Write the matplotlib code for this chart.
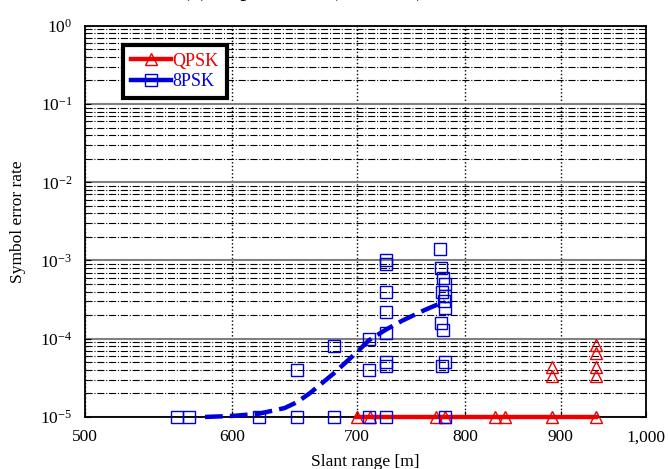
import numpy as np
import matplotlib
matplotlib.use('Agg')
import matplotlib.pyplot as plt
from matplotlib.ticker import FixedLocator, FuncFormatter, LogLocator, NullLocator

plt.rcParams['font.family'] = ['Liberation Serif', 'DejaVu Serif']
plt.rcParams['mathtext.fontset'] = 'stix'

# QPSK measured points (open triangles)
qpsk_x = [700, 711, 772, 780, 830, 840, 890, 940, 890, 890, 940, 940, 940, 940]
qpsk_y = [1e-5, 1e-5, 1e-5, 1e-5, 1e-5, 1e-5, 1e-5, 1e-5, 4.3e-5, 3.3e-5, 8.2e-5, 6.6e-5, 4.3e-5, 3.3e-5]
# QPSK fit line
qpsk_fit_x = [700, 940]
qpsk_fit_y = [1e-5, 1e-5]

# 8PSK measured points (open squares)
psk8_x = [560, 569, 620, 650, 680, 710, 725, 780,
          650, 680, 710, 710,
          725, 725, 725, 725, 725, 725, 725,
          775, 776, 778, 780, 777, 779, 780, 776, 778, 780, 777, 780]
psk8_y = [1e-5, 1e-5, 1e-5, 1e-5, 1e-5, 1e-5, 1e-5, 1e-5,
          4e-5, 8e-5, 1e-4, 4e-5,
          1e-3, 9e-4, 4e-4, 2.2e-4, 1.2e-4, 5e-5, 4.5e-5,
          1.4e-3, 8e-4, 6e-4, 5e-4, 4e-4, 3e-4, 2.5e-4, 1.6e-4, 1.3e-4, 5e-5, 4.5e-5, 3.5e-4]
# 8PSK fit curve
psk8_fit_x = [580, 600, 620, 640, 650, 660, 680, 700, 710, 725, 740, 760, 780]
psk8_fit_y = [1.0e-5, 1.03e-5, 1.1e-5, 1.3e-5, 1.55e-5, 2.0e-5, 3.6e-5, 6.8e-5, 9.5e-5,
              1.3e-4, 1.7e-4, 2.3e-4, 3.0e-4]

xticks = [500, 600, 700, 800, 900, 1000]

red = '#ee0000'
blue = '#0000dd'

fig = plt.figure(figsize=(6.68, 4.69), dpi=100)
ax = fig.add_axes([0.127, 0.111, 0.840, 0.834])

ax.set_xscale('log')
ax.set_yscale('log')
ax.set_xlim(500, 1000)
ax.set_ylim(1e-5, 1)

# grid
ax.xaxis.set_major_locator(FixedLocator(xticks))
ax.xaxis.set_minor_locator(NullLocator())
ax.xaxis.set_major_formatter(FuncFormatter(lambda v, p: '{:,.0f}'.format(v)))
ax.yaxis.set_major_locator(LogLocator(base=10, numticks=10))
ax.yaxis.set_minor_locator(LogLocator(base=10, subs=np.arange(2, 10), numticks=20))
ax.grid(True, which='major', axis='y', color='#808080', linestyle='-', linewidth=1.5)
ax.grid(True, which='minor', axis='y', color='black', linestyle='-.', linewidth=0.8)
ax.grid(True, which='major', axis='x', color='black', linestyle=':', linewidth=1.0)
ax.set_axisbelow(True)

ax.tick_params(which='both', direction='in', labelsize=12.5, top=False, right=True)
ax.tick_params(which='major', length=4, pad=9)
ax.tick_params(which='minor', length=2.5)
for s in ax.spines.values():
    s.set_linewidth(1.3)

# QPSK
ax.plot(qpsk_fit_x, qpsk_fit_y, color=red, linewidth=3.2, clip_on=False, zorder=3)
ax.plot(qpsk_x, qpsk_y, linestyle='none', marker='^', markersize=8, markerfacecolor='none',
        markeredgecolor=red, markeredgewidth=1.0, clip_on=False, zorder=4)
# 8PSK
ax.plot(psk8_fit_x, psk8_fit_y, color=blue, linewidth=3.2, linestyle=(0, (4, 1.6)),
        clip_on=False, zorder=3)
ax.plot(psk8_x, psk8_y, linestyle='none', marker='s', markersize=9, markerfacecolor='none',
        markeredgecolor=blue, markeredgewidth=1.0, clip_on=False, zorder=4)

# legend proxies
h1, = ax.plot([], [], color=red, linewidth=3.2, marker='^', markersize=8,
              markerfacecolor='none', markeredgecolor=red)
h2, = ax.plot([], [], color=blue, linewidth=3.2, marker='s', markersize=9,
              markerfacecolor='none', markeredgecolor=blue)
leg = ax.legend([h1, h2], ['QPSK', '8PSK'], loc='upper left', bbox_to_anchor=(0.068, 0.952),
                fontsize=13, frameon=True, fancybox=False, handlelength=2.2,
                handletextpad=0.1, borderpad=0.45, labelspacing=0.2, borderaxespad=0)
leg.get_frame().set_edgecolor('black')
leg.get_frame().set_linewidth(3)
leg.get_frame().set_alpha(1)
for t, c in zip(leg.get_texts(), [red, blue]):
    t.set_color(c)

ax.set_xlabel('Slant range [m]', fontsize=12.5, labelpad=6)
ax.set_ylabel('Symbol error rate', fontsize=12.5, labelpad=10)

# title, mostly cut off by the top edge of the figure
fig.text(0.272, 1.008, '(a) Experiment (Sea trial)', fontsize=17, va='baseline', ha='left')

fig.savefig('out.png', dpi=100)
